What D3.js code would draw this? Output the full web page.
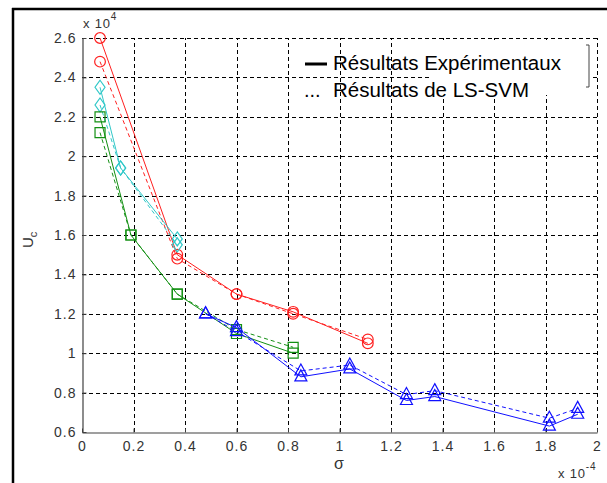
<!DOCTYPE html>
<html>
<head>
<meta charset="utf-8">
<script src="https://cdn.jsdelivr.net/npm/d3@7"></script>
<style>
  body { margin: 0; background: #fff; }
  svg { display: block; font-family: "Liberation Sans", Arial, sans-serif; }
</style>
</head>
<body>
<div id="chart"></div>
<script>
// sigma values (x 10^-4) and Uc values (x 10^4)
const redX = [0.07, 0.37, 0.60, 0.82, 1.11];
const redExp = [2.60, 1.50, 1.30, 1.21, 1.05];
const redSvm = [2.48, 1.48, 1.30, 1.20, 1.07];

const cyanX = [0.07, 0.15, 0.37];
const cyanExp = [2.35, 1.94, 1.58];
const cyanSvm = [2.26, 1.94, 1.55];

const greenX = [0.07, 0.19, 0.37, 0.60, 0.82];
const greenExp = [2.20, 1.60, 1.30, 1.10, 1.00];
const greenSvm = [2.12, 1.60, 1.30, 1.12, 1.03];

const blueX = [0.48, 0.60, 0.85, 1.04, 1.26, 1.37, 1.815, 1.925];
const blueExp = [1.20, 1.13, 0.88, 0.92, 0.76, 0.78, 0.63, 0.69];
const blueSvm = [1.20, 1.11, 0.91, 0.94, 0.79, 0.81, 0.67, 0.72];

const xTicks = [0, 0.2, 0.4, 0.6, 0.8, 1, 1.2, 1.4, 1.6, 1.8, 2];
const yTicks = [0.6, 0.8, 1, 1.2, 1.4, 1.6, 1.8, 2, 2.2, 2.4, 2.6];
const legendLabels = ["Résultats Expérimentaux", "Résultats de LS-SVM"];

const W = 607, H = 483;
const plot = { left: 82, right: 597, top: 38, bottom: 432 };

const svg = d3.select("#chart").append("svg")
    .attr("width", W)
    .attr("height", H);

// figure frame (only left and top edges are visible)
svg.append("line").attr("x1", 13).attr("x2", 13).attr("y1", 8).attr("y2", H)
    .attr("stroke", "#000").attr("stroke-width", 2.5);
svg.append("line").attr("x1", 12).attr("x2", W).attr("y1", 9).attr("y2", 9)
    .attr("stroke", "#000").attr("stroke-width", 2.5);

const x = d3.scaleLinear().domain([0, 2]).range([plot.left, plot.right]);
const y = d3.scaleLinear().domain([0.6, 2.6]).range([plot.bottom, plot.top]);

const fmt = d => (d === 0 || d === 1 || d === 2) ? String(d) : d3.format(".1f")(d);

// grid
const grid = svg.append("g").attr("stroke", "#000").attr("stroke-width", 1)
    .attr("stroke-dasharray", "4,3");
grid.selectAll(".gx").data(xTicks.slice(1)).join("line")
    .attr("x1", d => Math.round(x(d)) + 0.5).attr("x2", d => Math.round(x(d)) + 0.5)
    .attr("y1", plot.bottom).attr("y2", plot.top);
grid.selectAll(".gy").data(yTicks.slice(1)).join("line")
    .attr("y1", d => Math.round(y(d)) + 0.5).attr("y2", d => Math.round(y(d)) + 0.5)
    .attr("x1", plot.left).attr("x2", plot.right);

// axes
const xAxis = svg.append("g")
    .attr("transform", `translate(0,${plot.bottom + 0.5})`)
    .call(d3.axisBottom(x).tickValues(xTicks).tickFormat(fmt).tickSizeInner(-4).tickSizeOuter(0).tickPadding(9));
const yAxis = svg.append("g")
    .attr("transform", `translate(${plot.left + 0.5},0)`)
    .call(d3.axisLeft(y).tickValues(yTicks).tickFormat(fmt).tickSizeInner(-4).tickSizeOuter(0).tickPadding(6));
[xAxis, yAxis].forEach(a => {
    a.select(".domain").attr("stroke", "#404040").attr("stroke-width", 1.2);
    a.selectAll(".tick line").attr("stroke", "#404040");
    a.selectAll(".tick text").attr("fill", "#333").style("font-size", "14px")
        .style("letter-spacing", "1px").style("font-family", "\"Liberation Sans\", Arial, sans-serif");
});

// data series
const series = [
    { xs: redX, exp: redExp, svm: redSvm, color: "#ff2020", marker: "circle" },
    { xs: cyanX, exp: cyanExp, svm: cyanSvm, color: "#30c8c8", marker: "diamond" },
    { xs: greenX, exp: greenExp, svm: greenSvm, color: "#139013", marker: "square" },
    { xs: blueX, exp: blueExp, svm: blueSvm, color: "#1010ff", marker: "triangle" }
];

const markerPath = {
    circle: d3.symbol(d3.symbolCircle, 90),
    diamond: () => "M0,-7L5,0L0,7L-5,0Z",
    square: d3.symbol(d3.symbolSquare, 100),
    triangle: () => "M0,-7L6,4L-6,4Z"
};

const line = d3.line().x(d => x(d[0])).y(d => y(d[1]));

series.forEach(s => {
    const expPts = s.xs.map((v, i) => [v, s.exp[i]]);
    const svmPts = s.xs.map((v, i) => [v, s.svm[i]]);
    svg.append("path").datum(svmPts)
        .attr("d", line).attr("fill", "none").attr("stroke", s.color)
        .attr("stroke-width", 1).attr("stroke-dasharray", "4,3");
    svg.append("path").datum(expPts)
        .attr("d", line).attr("fill", "none").attr("stroke", s.color)
        .attr("stroke-width", 1);
    [expPts, svmPts].forEach(pts => {
        svg.append("g").selectAll("path").data(pts).join("path")
            .attr("transform", d => `translate(${x(d[0])},${y(d[1])})`)
            .attr("d", markerPath[s.marker])
            .attr("fill", "none").attr("stroke", s.color).attr("stroke-width", 1.2);
    });
});

// legend (white patch hides part of the grid)
svg.append("rect").attr("x", 430).attr("y", 42).attr("width", 160).attr("height", 53)
    .attr("fill", "#fff");
svg.append("line").attr("x1", 305).attr("x2", 327).attr("y1", 64).attr("y2", 64)
    .attr("stroke", "#000").attr("stroke-width", 3);
svg.append("text").attr("x", 304).attr("y", 97).style("font-size", "20px").text("...");
svg.selectAll(".leg").data(legendLabels).join("text")
    .attr("x", 333).attr("y", (d, i) => 70 + i * 27)
    .style("font-size", "20.5px").attr("fill", "#000").text(d => d);
svg.append("path").attr("d", "M586,45H589V87H586")
    .attr("fill", "none").attr("stroke", "#444").attr("stroke-width", 1);

// multipliers
const m1 = svg.append("text").attr("x", 83).attr("y", 28).style("font-size", "13px")
    .style("letter-spacing", "0.8px").attr("fill", "#333");
m1.append("tspan").text("x 10");
m1.append("tspan").attr("dy", -8).style("font-size", "10px").text("4");
const m2 = svg.append("text").attr("x", 558).attr("y", 478).style("font-size", "13px")
    .style("letter-spacing", "0.8px").attr("fill", "#333");
m2.append("tspan").text("x 10");
m2.append("tspan").attr("dy", -8).style("font-size", "10px").text("-4");

// axis labels
svg.append("text").attr("x", 339).attr("y", 469).attr("text-anchor", "middle")
    .style("font-size", "16px").attr("fill", "#333").text("σ");
const yl = svg.append("text").attr("transform", "translate(33,248) rotate(-90)")
    .style("font-size", "15px").attr("fill", "#333");
yl.append("tspan").text("U");
yl.append("tspan").attr("dy", 4).style("font-size", "11px").text("c");
</script>
</body>
</html>
